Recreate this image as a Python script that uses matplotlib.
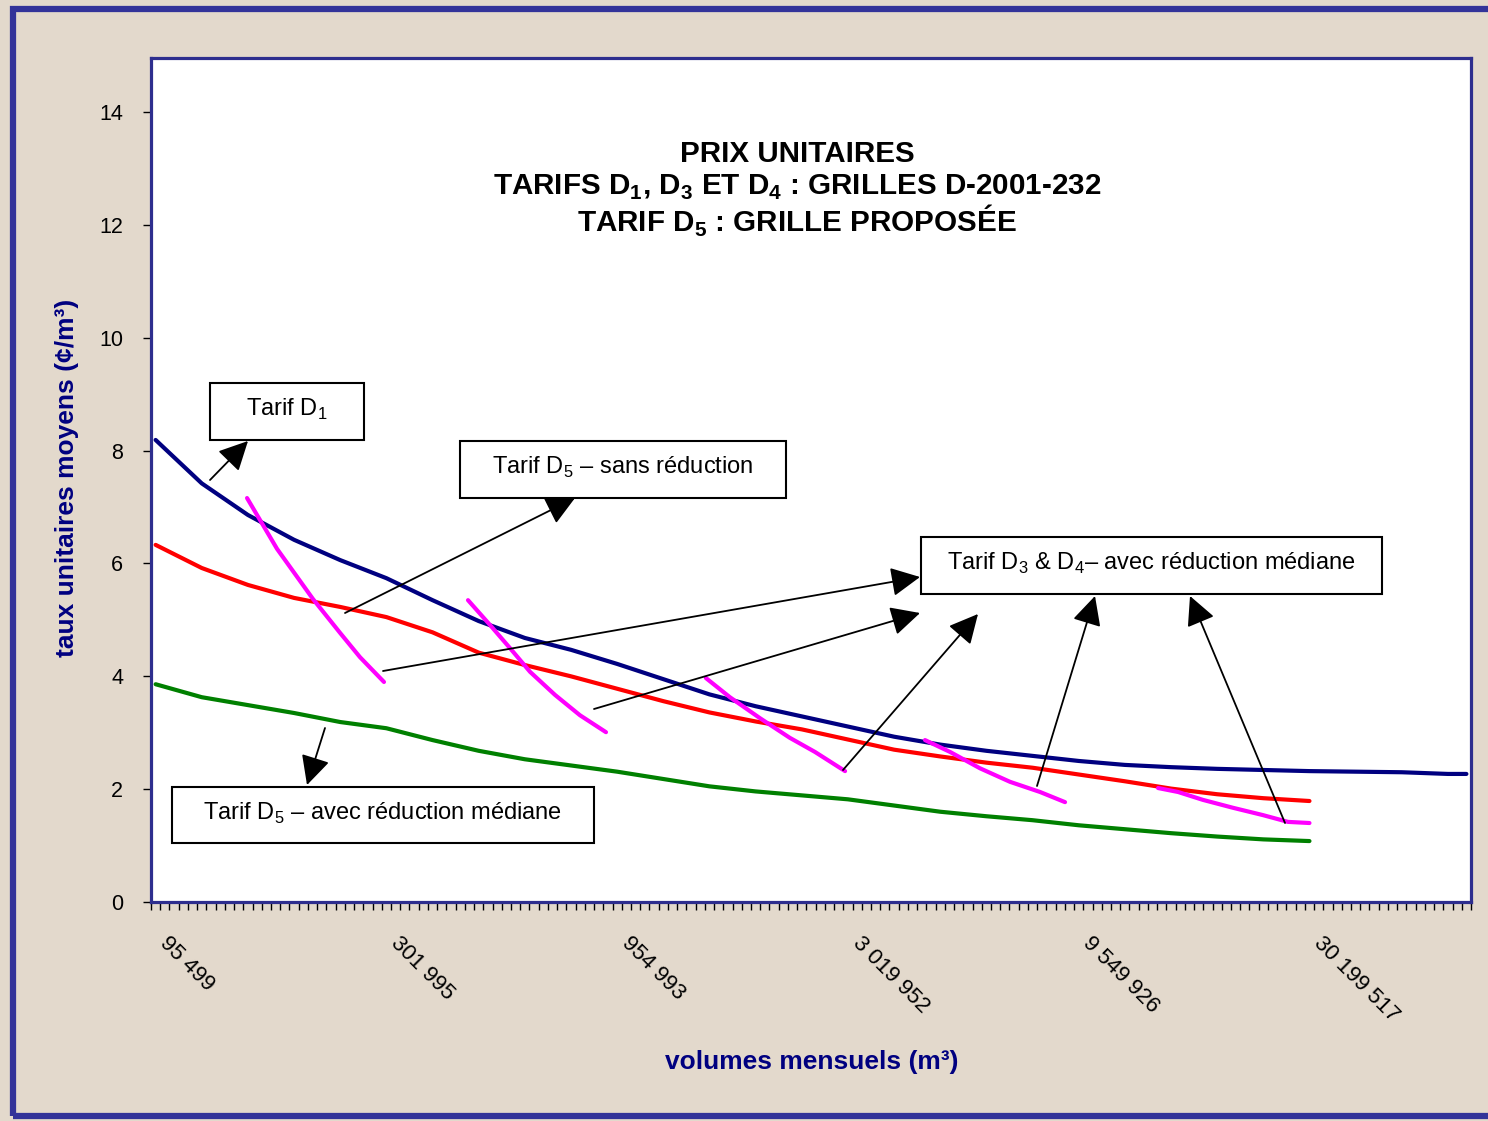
import matplotlib
matplotlib.use("Agg")
import matplotlib.pyplot as plt
from matplotlib.patches import Rectangle, FancyArrowPatch
from matplotlib.ticker import FixedLocator, NullFormatter
from matplotlib.transforms import ScaledTranslation

plt.rcParams['font.family'] = ['Liberation Sans', 'DejaVu Sans']
plt.rcParams['mathtext.fontset'] = 'custom'
plt.rcParams['mathtext.rm'] = 'Liberation Sans'
plt.rcParams['mathtext.bf'] = 'Liberation Sans:bold'

W, H = 1488, 1121

# volumes mensuels (m3) where the curves were read (every 5th category of the chart)
volumes = [95499, 120226, 151356, 190546, 239883, 301995, 380189, 478630, 602560,
           758578, 954993, 1202264, 1513561, 1905461, 2398833, 3019952, 3801894,
           4786301, 6025596, 7585776, 9549926, 12022644, 15135612, 19054607,
           23988329, 30199517, 38018940, 47863009, 60255958, 66069345]

# taux unitaires moyens (cents/m3)
tarif_d1 = [8.19, 7.42, 6.86, 6.42, 6.06, 5.74, 5.35, 4.98, 4.68, 4.47,
            4.22, 3.95, 3.68, 3.47, 3.29, 3.11, 2.93, 2.79, 2.68, 2.59,
            2.50, 2.43, 2.39, 2.36, 2.34, 2.32, 2.31, 2.30, 2.27, 2.27]
tarif_d5_sans = [6.33, 5.92, 5.62, 5.39, 5.23, 5.05, 4.78, 4.42, 4.20, 4.00,
                 3.78, 3.56, 3.36, 3.20, 3.06, 2.88, 2.70, 2.58, 2.47, 2.38,
                 2.26, 2.14, 2.01, 1.91, 1.84, 1.79]
tarif_d5_avec = [3.86, 3.63, 3.49, 3.35, 3.19, 3.08, 2.87, 2.68, 2.53, 2.42,
                 2.31, 2.18, 2.05, 1.96, 1.89, 1.82, 1.71, 1.60, 1.52, 1.45,
                 1.36, 1.29, 1.22, 1.16, 1.11, 1.08]

# Tarif D3 & D4 avec reduction mediane: five separate pieces
d34_vol = [
    [150700, 175000, 209400, 239700, 264700, 298400],
    [453800, 506500, 559500, 618400, 700600, 793300, 903200],
    [1486800, 1676000, 1946000, 2260000, 2562000, 2977000],
    [4436000, 5026000, 5836000, 6780000, 7875000, 8921000],
    [14190000, 15680000, 17750000, 20620000, 23950000, 27130000, 30199517],
]
d34_val = [
    [7.16, 6.26, 5.37, 4.77, 4.34, 3.90],
    [5.35, 4.91, 4.50, 4.08, 3.67, 3.31, 3.01],
    [3.97, 3.63, 3.26, 2.91, 2.66, 2.32],
    [2.87, 2.66, 2.37, 2.13, 1.95, 1.77],
    [2.02, 1.95, 1.81, 1.67, 1.54, 1.42, 1.40],
]

xtick_vals = [95499, 301995, 954993, 3019952, 9549926, 30199517]
xtick_labels = ['95 499', '301 995', '954 993', '3 019 952', '9 549 926', '30 199 517']


def fig_xy(x, y):
    return x / W, 1 - y / H


fig = plt.figure(figsize=(W / 100, H / 100), dpi=100)
fig.patch.set_facecolor('#E3D9CC')
fig.add_artist(Rectangle(fig_xy(13, 1116), 1500 / W, 1107 / H, fill=False,
                         edgecolor='#333399', lw=4.5, transform=fig.transFigure))

ax = fig.add_axes([151 / W, 1 - 902 / H, 1320 / W, 844 / H])
ax.set_facecolor('white')
for s in ax.spines.values():
    s.set_color('#2E2E8E')
    s.set_linewidth(2.3)

ax.plot(volumes, tarif_d1, color='#000080', lw=3, solid_capstyle='round')
ax.plot(volumes[:len(tarif_d5_sans)], tarif_d5_sans, color='#FF0000', lw=3, solid_capstyle='round')
ax.plot(volumes[:len(tarif_d5_avec)], tarif_d5_avec, color='#008000', lw=3, solid_capstyle='round')
for xs, ys in zip(d34_vol, d34_val):
    ax.plot(xs, ys, color='#FF00FF', lw=3, solid_capstyle='round')

ax.set_xscale('log')
step = 10 ** 0.02
ax.set_xlim(95499 * step ** -0.5, 95499 * step ** 142.5)
ax.set_ylim(0, 14.96)

ax.set_yticks(range(0, 15, 2))
ax.tick_params(axis='y', length=6, width=1, color='black', pad=14, labelsize=15.5)

ax.set_xticks(xtick_vals, xtick_labels)
ax.xaxis.set_minor_locator(FixedLocator([95499 * step ** (k - 0.5) for k in range(144)]))
ax.xaxis.set_minor_formatter(NullFormatter())
ax.tick_params(axis='x', which='major', length=0, pad=22, labelsize=16)
ax.tick_params(axis='x', which='minor', length=6, width=1, color='black')
for lab in ax.get_xticklabels():
    lab.set_rotation(-45)
    lab.set_ha('left')
    lab.set_va('top')
    lab.set_rotation_mode('anchor')
    lab.set_transform(lab.get_transform() + ScaledTranslation(0.15, 0, fig.dpi_scale_trans))

# titles
title_lines = [
    (154, 'PRIX UNITAIRES'),
    (187, r'TARIFS $\mathbf{D}_\mathbf{1}$, $\mathbf{D}_\mathbf{3}$ ET $\mathbf{D}_\mathbf{4}$ : GRILLES D-2001-232'),
    (221, r'TARIF $\mathbf{D}_\mathbf{5}$ : GRILLE PROPOSÉE'),
]
for y, t in title_lines:
    fig.text(*fig_xy(797, y), t, ha='center', va='center', fontsize=21.3, fontweight='bold')

fig.text(*fig_xy(67, 478), 'taux unitaires moyens (¢/m³)', rotation=90, ha='center', va='center',
         fontsize=19, fontweight='bold', color='#000080')
fig.text(*fig_xy(812, 1062), 'volumes mensuels (m³)', ha='center', va='center',
         fontsize=19, fontweight='bold', color='#000080')

# annotation boxes
boxes = [
    ((210, 383, 364, 440), r'Tarif $\mathrm{D}_\mathrm{1}$'),
    ((460, 441, 786, 498), r'Tarif $\mathrm{D}_\mathrm{5}$ – sans réduction'),
    ((921, 537, 1382, 594), r'Tarif $\mathrm{D}_\mathrm{3}$ & $\mathrm{D}_\mathrm{4}$– avec réduction médiane'),
    ((172, 787, 594, 843), r'Tarif $\mathrm{D}_\mathrm{5}$ – avec réduction médiane'),
]
for (x0, y0, x1, y1), t in boxes:
    fig.add_artist(Rectangle(fig_xy(x0, y1), (x1 - x0) / W, (y1 - y0) / H, facecolor='white',
                             edgecolor='black', lw=1.5, transform=fig.transFigure, zorder=2))
    fig.text(*fig_xy((x0 + x1) / 2, (y0 + y1) / 2 - 2), t, ha='center', va='center',
             fontsize=17, zorder=3)

arrows = [
    ((210, 480), (248, 441)),
    ((345, 613), (575, 498)),
    ((383, 671), (920, 577)),
    ((594, 709), (920, 613)),
    ((843, 770), (978, 614)),
    ((1037, 786), (1095, 596)),
    ((1285, 823), (1190, 596)),
    ((325, 728), (307, 785)),
]
for a, b in arrows:
    fig.add_artist(FancyArrowPatch(fig_xy(*a), fig_xy(*b), transform=fig.transFigure,
                                   arrowstyle='-|>,head_length=0.9,head_width=0.45',
                                   mutation_scale=20, lw=1.3, color='black',
                                   shrinkA=0, shrinkB=0, zorder=4))

fig.savefig('out.png', dpi=100, facecolor=fig.get_facecolor())
